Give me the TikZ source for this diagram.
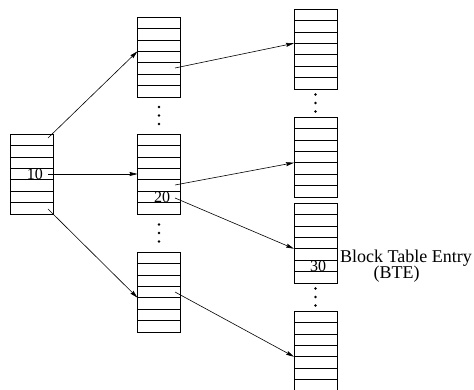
\documentclass[tikz,border=0pt]{standalone}
\usepackage{fontspec}
\setmainfont{Liberation Serif}
\usepackage{tikz}
\usetikzlibrary{arrows.meta, positioning, calc}
\tikzstyle{bte} = [rectangle, draw=black, line width=0.7pt, outer sep=0pt, inner sep=0pt, minimum width=43pt, minimum height=80pt,
  path picture={\foreach \k in {1,...,6}{\draw[line width=0.7pt] ($(path picture bounding box.north west)!\k/7!(path picture bounding box.south west)$) -- ($(path picture bounding box.north east)!\k/7!(path picture bounding box.south east)$);}}]
\tikzstyle{num} = [inner sep=0pt, anchor=base, font=\fontsize{16}{16}\selectfont]
\tikzstyle{arrow} = [line width=0.6pt, -{Stealth[length=8pt, width=4pt, inset=1pt]}]
\tikzstyle{dot} = [fill=black]

\begin{document}
\begin{tikzpicture}[x=1pt, y=-1pt]
\useasboundingbox (0,0) rectangle (474,390);

% tables
\node (l) [bte] at (32,174) {};
\node (m1) [bte] at (159,57) {};
\node (m2) [bte, below=37pt of m1] {};
\node (m3) [bte, below=38pt of m2] {};
\node (r1) [bte] at (315.5,49) {};
\node (r2) [bte, below=28pt of r1] {};
\node (r3) [bte, below=6pt of r2] {};
\node (r4) [bte, below=28pt of r3] {};

% entries
\node (n10) [num] at ($(l.center)+(3,6)$) {10};
\node (n20) [num] at ($(m2.center)+(3,28.6)$) {20};
\node (n30) [num] at ($(r3.center)+(2.5,28.4)$) {30};
\node (lbl) [inner sep=0pt, anchor=base west, font=\fontsize{18}{18}\selectfont] at ($(r3.east)+(3,19)$) {Block Table Entry};
\node (lbl2) [inner sep=0pt, anchor=base, font=\fontsize{18}{18}\selectfont] at ($(lbl.base west)+(56.5,16.5)$) {(BTE)};

% dots
\foreach \a/\b in {m1/m2, m2/m3, r1/r2, r3/r4}
  \foreach \d in {-8.5,0,8.5}
    \fill[dot] ($(\a.south)!0.5!(\b.north)+(0,\d)$) circle (1.3pt);

% pointers
\draw [arrow] ($(l.north east)+(-5.5,4)$) -- ($(m1.north west)!3/7!(m1.south west)$);
\draw [arrow] ([xshift=-5.5pt]l.east) -- (m2.west);
\draw [arrow] ($(l.south east)+(-5.5,-5)$) -- ($(m3.north west)!4/7!(m3.south west)$);
\draw [arrow] ($(m1.east)+(-5.5,11)$) -- ($(r1.north west)!3/7!(r1.south west)$);
\draw [arrow] ($(m2.east)+(-5.5,11)$) -- ($(r2.north west)!4/7!(r2.south west)$);
\draw [arrow] ($(m2.east)+(-5.5,24)$) -- ($(r3.north west)!4/7!(r3.south west)$);
\draw [arrow] ([xshift=-5.5pt]m3.east) -- ($(r4.north west)!4/7!(r4.south west)$);

\end{tikzpicture}
\end{document}
